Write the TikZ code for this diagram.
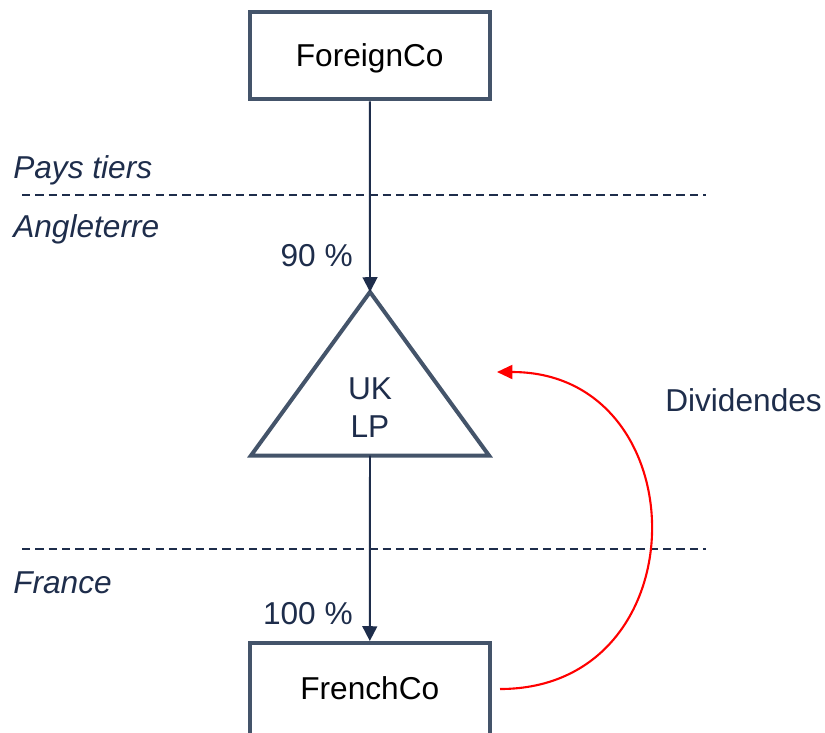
\documentclass[tikz,border=0pt]{standalone}
\usepackage{fontspec}
\setmainfont{Liberation Sans}
\usetikzlibrary{arrows.meta}
\usetikzlibrary{calc}
\definecolor{navy}{RGB}{30,45,75}
\definecolor{slate}{RGB}{68,84,106}
\newcommand{\labelsize}{\fontsize{22.5}{27}\selectfont}
\tikzset{entity/.style={draw=slate, line width=2.85pt, minimum width=59.9mm, minimum height=21.9mm, inner sep=0pt, text depth=0pt, text=black}}
\tikzset{link/.style={draw=navy, line width=1.4pt, -{Triangle[length=10.5pt,width=10.5pt]}}}
\tikzset{border/.style={draw=navy, line width=1.3pt, dash pattern=on 5.9pt off 3.6pt}}
\tikzset{country/.style={text=navy, font=\labelsize\itshape, inner sep=0pt, anchor=base west}}
\tikzset{share/.style={text=navy, inner sep=0pt, anchor=base east}}
\tikzset{dividend/.style={draw=red, line width=1.5pt, -{Triangle[length=11pt,width=10pt]}}}

\begin{document}
\begin{tikzpicture}[x=0.25mm,y=-0.25mm,font=\labelsize]
\useasboundingbox (0,0) rectangle (825,732);

% companies
\node[entity] (foreign) at (369.75,55.5) {ForeignCo};
\node[entity, minimum height=25mm, text height=3mm] (french) at (369.75,693) {FrenchCo};

% UK LP triangle
\coordinate (lp apex) at (370,292);
\coordinate (lp left) at (251,455.5);
\coordinate (lp right) at (489,455.5);
\coordinate (lp base) at (370,455.5);
\draw[draw=slate, line width=2.85pt] (lp apex) -- (lp left) -- (lp right) -- cycle;
\node[text=navy, align=center, inner sep=0pt] (lp) at (370,407.5) {UK\\LP};

% borders
\draw[border] (22,195) -- (706,195);
\draw[border] (22,549) -- (706,549);
\node[country] (third) at (13,178) {Pays tiers};
\node[country] (england) at (13,237) {Angleterre};
\node[country] (france) at (13,593) {France};

% holdings
\draw[link] (foreign) -- (lp apex);
\node[share] (share uk) at (353,266) {90 \%};
\draw[link] (lp base) -- (french);
\node[share] (share fr) at (353,624) {100 \%};

% dividends
\coordinate (div start) at (500,689);
\coordinate (div tip) at (497,372);
\draw[dividend] (div start) to[out=0, in=0, looseness=1.63] (div tip);
\node[text=navy, anchor=base west, inner sep=0pt] (div label) at (665,411) {Dividendes};
\end{tikzpicture}
\end{document}
